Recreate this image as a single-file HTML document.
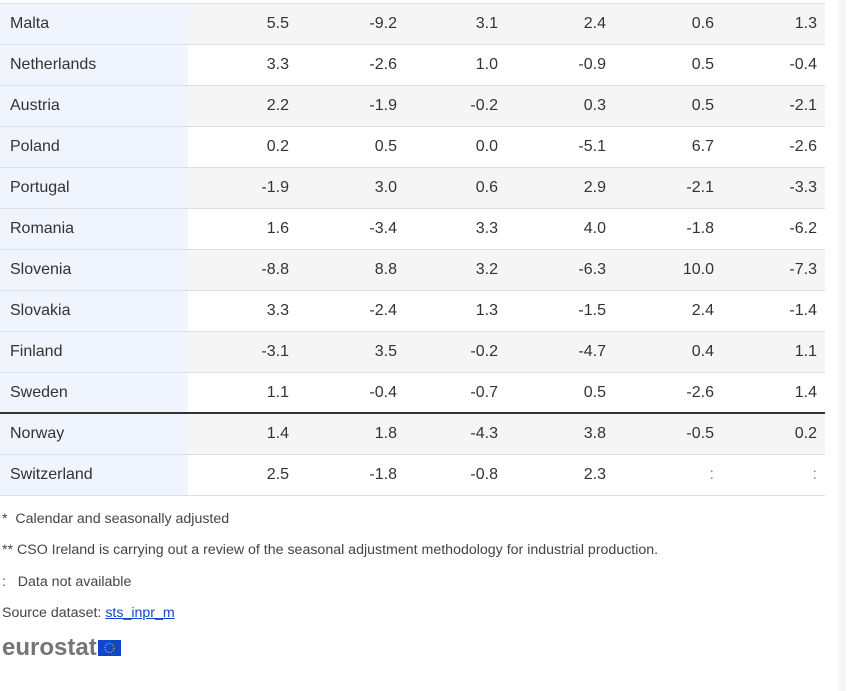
<!DOCTYPE html>
<html><head><meta charset="utf-8">
<style>
html,body{margin:0;padding:0;background:#fff;width:852px;height:691px;overflow:hidden;font-family:"Liberation Sans",Arial,sans-serif;color:#333}
#tbl{position:absolute;left:0;top:3px;width:825px;border-top:1px solid #d9dee8}
.row{position:relative;height:40px;border-bottom:1px solid #d9dee8}
.row.g{background:#f5f5f5}
.row.thick{border-bottom:2px solid #333;height:39px}
.name{position:absolute;left:0;top:0;width:188px;height:100%;background:#f0f4fc;box-sizing:border-box;padding-left:10px;line-height:40px;font-size:16px;color:#333}
.v{position:absolute;top:0;line-height:40px;font-size:16px;text-align:right;width:90px;color:#333}
.fn{position:absolute;left:2px;font-size:14.2px;color:#444}
a{color:#0e47cb}
#scroll{position:absolute;left:838px;top:0;width:8px;height:691px;background:#f7f7f7}
</style></head><body>
<div id="scroll"></div>
<div id="tbl"></div>
<div class="fn" style="top:511px">*&nbsp; Calendar and seasonally adjusted</div>
<div class="fn" style="top:542px">** CSO Ireland is carrying out a review of the seasonal adjustment methodology for industrial production.</div>
<div class="fn" style="top:574px">:&nbsp;&nbsp; Data not available</div>
<div class="fn" style="top:605px">Source dataset: <a href="#">sts_inpr_m</a></div>
<div style="position:absolute;left:2px;top:634px;height:26px">
<span style="font-size:24px;font-weight:bold;color:#757575;vertical-align:middle">eurostat</span><svg width="23" height="16" style="vertical-align:middle;margin-left:1px"><rect width="23" height="16" fill="#0e47cb"/><circle cx="11.5" cy="8" r="4.5" fill="none" stroke="#ffde00" stroke-width="1" stroke-dasharray="1 1.35"/></svg>
</div>
<script>
const countries=["Malta","Netherlands","Austria","Poland","Portugal","Romania","Slovenia","Slovakia","Finland","Sweden","Norway","Switzerland"];
const col1=["5.5","3.3","2.2","0.2","-1.9","1.6","-8.8","3.3","-3.1","1.1","1.4","2.5"];
const col2=["-9.2","-2.6","-1.9","0.5","3.0","-3.4","8.8","-2.4","3.5","-0.4","1.8","-1.8"];
const col3=["3.1","1.0","-0.2","0.0","0.6","3.3","3.2","1.3","-0.2","-0.7","-4.3","-0.8"];
const col4=["2.4","-0.9","0.3","-5.1","2.9","4.0","-6.3","-1.5","-4.7","0.5","3.8","2.3"];
const col5=["0.6","0.5","0.5","6.7","-2.1","-1.8","10.0","2.4","0.4","-2.6","-0.5",":"];
const col6=["1.3","-0.4","-2.1","-2.6","-3.3","-6.2","-7.3","-1.4","1.1","1.4","0.2",":"];
const cols=[col1,col2,col3,col4,col5,col6];
const rightEdges=[289,397,498,606,714,817];
const tbl=document.getElementById('tbl');
countries.forEach((c,i)=>{
  const r=document.createElement('div');
  r.className='row'+(i%2===0?' g':'')+(i===9?' thick':'');
  
  
  const n=document.createElement('div');
  n.className='name';n.textContent=c;
  
  
  r.appendChild(n);
  cols.forEach((col,j)=>{
    const v=document.createElement('div');
    v.className='v';v.textContent=col[i];
    v.style.left=(rightEdges[j]-90)+'px';
    if(col[i]===':')v.style.color='#888';
    
    
    r.appendChild(v);
  });
  tbl.appendChild(r);
});
</script>
</body></html>
